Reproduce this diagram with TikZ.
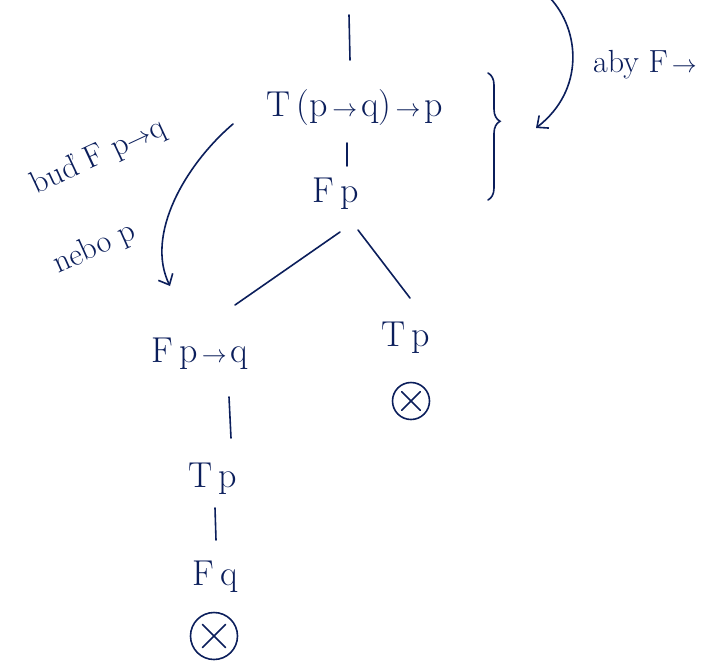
\documentclass[tikz,border=0pt]{standalone}
\usepackage{fontspec}
\usetikzlibrary{arrows.meta,decorations.pathreplacing}
\definecolor{ink}{HTML}{0B1E5B}
\begin{document}
\begin{tikzpicture}[x=1pt,y=-1pt, line width=1.6pt, line cap=round, draw=ink,
  lab/.style={text=ink, font=\fontsize{36}{40}\selectfont, inner sep=0pt, anchor=base},
  note/.style={text=ink, font=\fontsize{32}{36}\selectfont, inner sep=0pt, anchor=base},
  closed/.style={circle, draw=ink, inner sep=0pt},
  crossout/.style={shorten <=#1, shorten >=#1},
  hand/.style={-{Straight Barb[length=9pt,width=16pt,line width=1.6pt]}},
]
\useasboundingbox (0,0) rectangle (727,664);
% tableau nodes
\node[lab] (t1) at (355,116) {T\,(p$\,\to\,$q)$\,\to\,$p};
\node[lab] (fp) at (336,202) {F\,p};
\node[lab] (fpq) at (200,362) {F\,p$\,\to\,$q};
\node[lab] (tpr) at (406,346) {T\,p};
\node[closed, minimum size=37pt] (x1) at (411,401) {};
\draw[crossout=6pt] (x1.north west) -- (x1.south east);
\draw[crossout=6pt] (x1.north east) -- (x1.south west);
\node[lab] (tpl) at (213,487) {T\,p};
\node[lab] (fq) at (215,585) {F\,q};
\node[closed, minimum size=47pt] (x2) at (214,636) {};
\draw[crossout=8pt] (x2.north west) -- (x2.south east);
\draw[crossout=8pt] (x2.north east) -- (x2.south west);
% connectors
\coordinate (stub) at (349,15);
\coordinate (stubend) at (350,60);
\draw (stub) -- (stubend);
\coordinate (a1) at (347,143); \coordinate (a2) at (347,166);
\draw (a1) -- (a2);
\coordinate (b1) at (340,232); \coordinate (b2) at (235,305);
\draw (b1) -- (b2);
\coordinate (c1) at (358,230); \coordinate (c2) at (410,298);
\draw (c1) -- (c2);
\coordinate (d1) at (229,397); \coordinate (d2) at (231,438);
\draw (d1) -- (d2);
\coordinate (e1) at (215,508); \coordinate (e2) at (216,540);
\draw (e1) -- (e2);
% brace
\coordinate (br1) at (488,73); \coordinate (br2) at (488,200);
\draw[decorate, decoration={brace, amplitude=12pt, aspect=0.38}] (br1) -- (br2);
% curved arrows
\coordinate (ra1) at (550,-2); \coordinate (ra2) at (536,128);
\draw[hand] (ra1) .. controls (580,30) and (585,90) .. (ra2);
\coordinate (la1) at (233,124); \coordinate (la2) at (170,286);
\draw[hand] (la1) .. controls (185,165) and (145,235) .. (la2);
% annotations
\node[note] (aby) at (645,72) {aby F$\,\to$};
\node[note, rotate=25] (bud) at (102,164) {buď F p$\to$q};
\node[note, rotate=24] (nebo) at (98,256) {nebo\ p};
\end{tikzpicture}
\end{document}
